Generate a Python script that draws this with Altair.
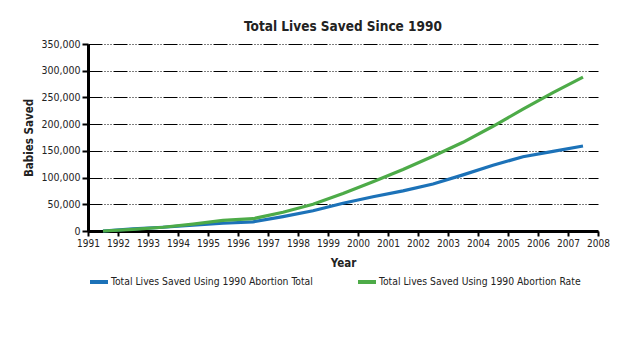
import altair as alt
import pandas as pd

years = list(range(1991, 2008))
total_1990 = [0, 4000, 7000, 11000, 14500, 17000, 27000, 38000, 52000, 64000,
              75000, 88000, 105000, 123000, 139000, 149000, 159000]
rate_1990 = [0, 3000, 7000, 13000, 20000, 23000, 35000, 50000, 70000, 92000,
             115000, 140000, 166000, 196000, 228000, 259000, 288000]
series = ["Total Lives Saved Using 1990 Abortion Total",
          "Total Lives Saved Using 1990 Abortion Rate"]
colors = ["#1C72B8", "#4DAB48"]
x_ticks = list(range(1991, 2009))
y_ticks = list(range(0, 350001, 50000))

rows = []
for yr, a, b in zip(years, total_1990, rate_1990):
    rows.append({"year": yr, "series": series[0], "saved": a})
    rows.append({"year": yr, "series": series[1], "saved": b})
df = pd.DataFrame(rows)

FONT = "DejaVu Sans Condensed, sans-serif"

chart = alt.Chart(df).transform_calculate(
    xpos="datum.year + 0.5"
).mark_line(strokeWidth=3.2).encode(
    x=alt.X("xpos:Q",
            scale=alt.Scale(domain=[1991, 2008], nice=False, zero=False),
            axis=alt.Axis(values=x_ticks, format="d", title="Year", grid=False,
                          labelOverlap=False, labelFlush=False, labelFontSize=10,
                          labelPadding=2, titlePadding=9, tickSize=5)),
    y=alt.Y("saved:Q",
            scale=alt.Scale(domain=[0, 350000], nice=False),
            axis=alt.Axis(values=y_ticks, format=",d", title="Babies Saved",
                          grid=True, gridDash=[14, 2, 1, 2, 1, 2, 1, 2],
                          gridColor="#000000", gridWidth=1, labelFontSize=10.5,
                          labelFlush=False, labelOverlap=False,
                          labelPadding=2, titlePadding=6, tickSize=6)),
    color=alt.Color("series:N",
                    scale=alt.Scale(domain=series, range=colors),
                    sort=series,
                    legend=alt.Legend(title=None, orient="none", direction="horizontal",
                                      legendX=0, legendY=227, columns=2,
                                      columnPadding=37, symbolType="stroke",
                                      symbolSize=324, symbolStrokeWidth=4,
                                      labelLimit=0, labelFontSize=10.3, labelFont=FONT,
                                      labelColor="#222222", padding=0, labelOffset=1)),
).properties(
    width=510, height=187,
    autosize="none",
    padding={"left": 80, "top": 36, "right": 18, "bottom": 70},
    title=alt.TitleParams("Total Lives Saved Since 1990", fontSize=13.5, font=FONT,
                          fontWeight="bold", color="#222222", offset=6, anchor="middle"),
).configure_view(stroke=None).configure_axis(
    domainColor="#000000", domainWidth=3, tickColor="#000000", tickWidth=2,
    labelFont=FONT, labelColor="#222222",
    titleFont=FONT, titleFontSize=11.5, titleFontWeight="bold", titleColor="#222222",
)

chart.save("out.html", embed_options={"renderer": "svg", "actions": False})
